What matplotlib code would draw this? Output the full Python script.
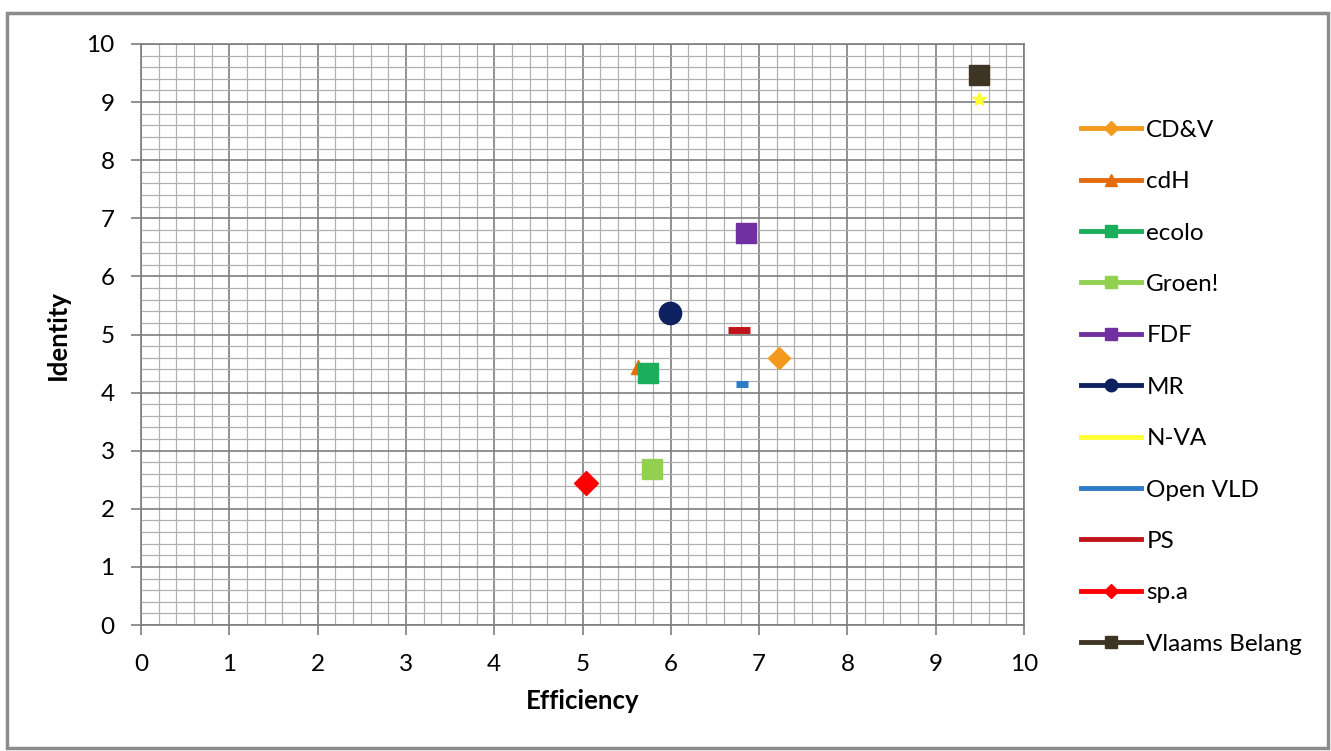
import matplotlib.pyplot as plt
from matplotlib.lines import Line2D
from matplotlib.patches import Rectangle
from matplotlib.ticker import MultipleLocator

plt.rcParams['font.family'] = ['Lato', 'DejaVu Sans']

# party positions
parties    = ["CD&V", "cdH", "ecolo", "Groen!", "FDF", "MR", "N-VA",
              "Open VLD", "PS", "sp.a", "Vlaams Belang"]
efficiency = [7.23, 5.63, 5.74, 5.79, 6.85, 5.99, 9.49, 6.81, 6.77, 5.04, 9.49]
identity   = [4.60, 4.44, 4.34, 2.68, 6.75, 5.37, 9.05, 4.15, 5.08, 2.44, 9.47]

colors  = ["#F39A1E", "#E46C0A", "#1DAE5C", "#92D050", "#7030A0", "#0D2160",
           "#FFFF33", "#2E7BC6", "#C0141B", "#FF0000", "#3D3423"]
markers = ["D", "^", "s", "s", "s", "o", "*", "_", "_", "D", "s"]
msizes  = [11, 10, 15, 14, 15, 16, 10, 9, 16, 12, 15]
legend_ms = [7, 8, 9, 9, 9, 9, 0, 0, 0, 7, 9]

fig = plt.figure(figsize=(13.31, 7.51), dpi=100)
ax = fig.add_axes([141 / 1331, 1 - 625 / 751, (1024 - 141) / 1331, (625 - 44) / 751])

for x, y, c, m, s in zip(efficiency, identity, colors, markers, msizes):
    mew = 5 if m == "_" else 1
    ax.plot([x], [y], linestyle="none", marker=m, markersize=s, color=c,
            markeredgecolor=c, markeredgewidth=mew, zorder=3)

ax.set_xlim(0, 10)
ax.set_ylim(0, 10)
ax.xaxis.set_major_locator(MultipleLocator(1))
ax.yaxis.set_major_locator(MultipleLocator(1))
ax.xaxis.set_minor_locator(MultipleLocator(0.2))
ax.yaxis.set_minor_locator(MultipleLocator(0.2))
ax.grid(which="major", color="#7e7e7e", lw=1.2)
ax.grid(which="minor", color="#b0b0b0", lw=0.9)
ax.set_axisbelow(True)
ax.tick_params(which="major", direction="out", length=7, width=1.2,
               color="#7e7e7e", labelsize=17.5, pad=12)
ax.tick_params(which="minor", length=0)
ax.tick_params(axis="x", pad=14)
for s in ax.spines.values():
    s.set_color("#7e7e7e")
    s.set_linewidth(1.2)

ax.set_xlabel("Efficiency", fontsize=18.5, fontweight="bold", labelpad=10)
ax.set_ylabel("Identity", fontsize=18.5, fontweight="bold", labelpad=12)

handles = []
for c, m, lm in zip(colors, markers, legend_ms):
    mk = m if lm > 0 else None
    handles.append(Line2D([], [], color=c, lw=3.5, marker=mk, markersize=lm,
                          markeredgecolor=c))
fig.legend(handles, parties, loc="upper left",
           bbox_to_anchor=(1071 / 1331, 1 - 110 / 751), frameon=False,
           fontsize=17.5, handlelength=2.5, handletextpad=0.2,
           labelspacing=1.25, borderaxespad=0)

# chart area border
fig.add_artist(Rectangle((7 / 1331, 1 - 748 / 751), 1321 / 1331, 735 / 751,
                         transform=fig.transFigure, fill=False,
                         edgecolor="#8c8c8c", lw=2.5))

fig.savefig("out.png", dpi=100)
